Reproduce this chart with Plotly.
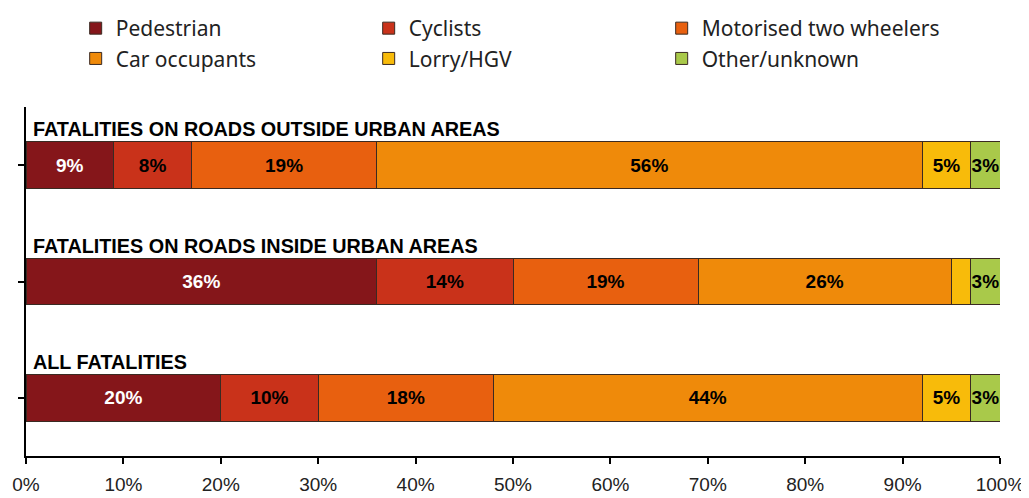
import plotly.graph_objects as go

# rows, bottom to top
categories = ["ALL FATALITIES",
              "FATALITIES ON ROADS INSIDE URBAN AREAS",
              "FATALITIES ON ROADS OUTSIDE URBAN AREAS"]

series = ["Pedestrian", "Cyclists", "Motorised two wheelers",
          "Car occupants", "Lorry/HGV", "Other/unknown"]

pedestrian = [20, 36, 9]
cyclists = [10, 14, 8]
motorised = [18, 19, 19]
car_occupants = [44, 26, 56]
lorry = [5, 2, 5]
other = [3, 3, 3]

# the 2% lorry share inside urban areas carries no label
lorry_labels = ["5%", "", "5%"]

values = [pedestrian, cyclists, motorised, car_occupants, lorry, other]
colors = ["#85161a", "#c9321a", "#e8600f", "#ef8a0a", "#f8bb0a", "#a9c94a"]
text_colors = ["white", "black", "black", "black", "black", "black"]

fig = go.Figure()
for name, vals, col, tcol in zip(series, values, colors, text_colors):
    labels = [f"{v}%" for v in vals]
    if name == "Lorry/HGV":
        labels = lorry_labels
    fig.add_trace(go.Bar(
        y=categories, x=vals, name=name, orientation="h",
        marker=dict(color=col, line=dict(color="#3a2a22", width=1)),
        text=labels, textposition="inside", insidetextanchor="middle",
        textangle=0, constraintext="none",
        textfont=dict(family="Liberation Sans, Arial", size=19, color=tcol,
                      weight="bold"),
        width=0.4,
    ))

# category titles sit above each bar
for cat in categories:
    fig.add_annotation(
        x=0, xref="paper", y=cat, yref="y", yshift=36, xshift=5,
        text=f"<b>{cat}</b>", showarrow=False, xanchor="left", yanchor="middle",
        font=dict(family="Liberation Sans, Arial", size=19.8, color="black"),
    )

# page body adds an 8px margin, so the figure is 8px smaller than the window
fig.update_layout(
    width=1021, height=490,
    barmode="stack",
    plot_bgcolor="white", paper_bgcolor="white",
    margin=dict(l=18, r=29, t=99, b=42),
    font=dict(family="Liberation Sans, Arial", color="black"),
    legend=dict(
        orientation="h", x=0.051, y=1.0, yref="container", xanchor="left",
        yanchor="top", entrywidth=248, entrywidthmode="pixels",
        font=dict(family="Noto Sans, Liberation Sans", size=21, color="#222"),
        traceorder="normal", itemclick=False,
    ),
    xaxis=dict(
        range=[0, 100], dtick=10, ticksuffix="%", showgrid=False,
        showline=True, linecolor="black", linewidth=1.5,
        ticks="outside", ticklen=6, tickcolor="black", tickwidth=1.5,
        tickfont=dict(family="Liberation Sans, Arial", size=19, color="#222"),
        ticklabelstandoff=4,
        zeroline=False, automargin=False,
    ),
    yaxis=dict(
        showticklabels=False, showgrid=False, range=[-0.5, 2.5],
        showline=True, linecolor="black", linewidth=1.5,
        ticks="outside", ticklen=6, tickcolor="black", tickwidth=1.5,
        automargin=False,
    ),
)

fig.write_html("out.html")
